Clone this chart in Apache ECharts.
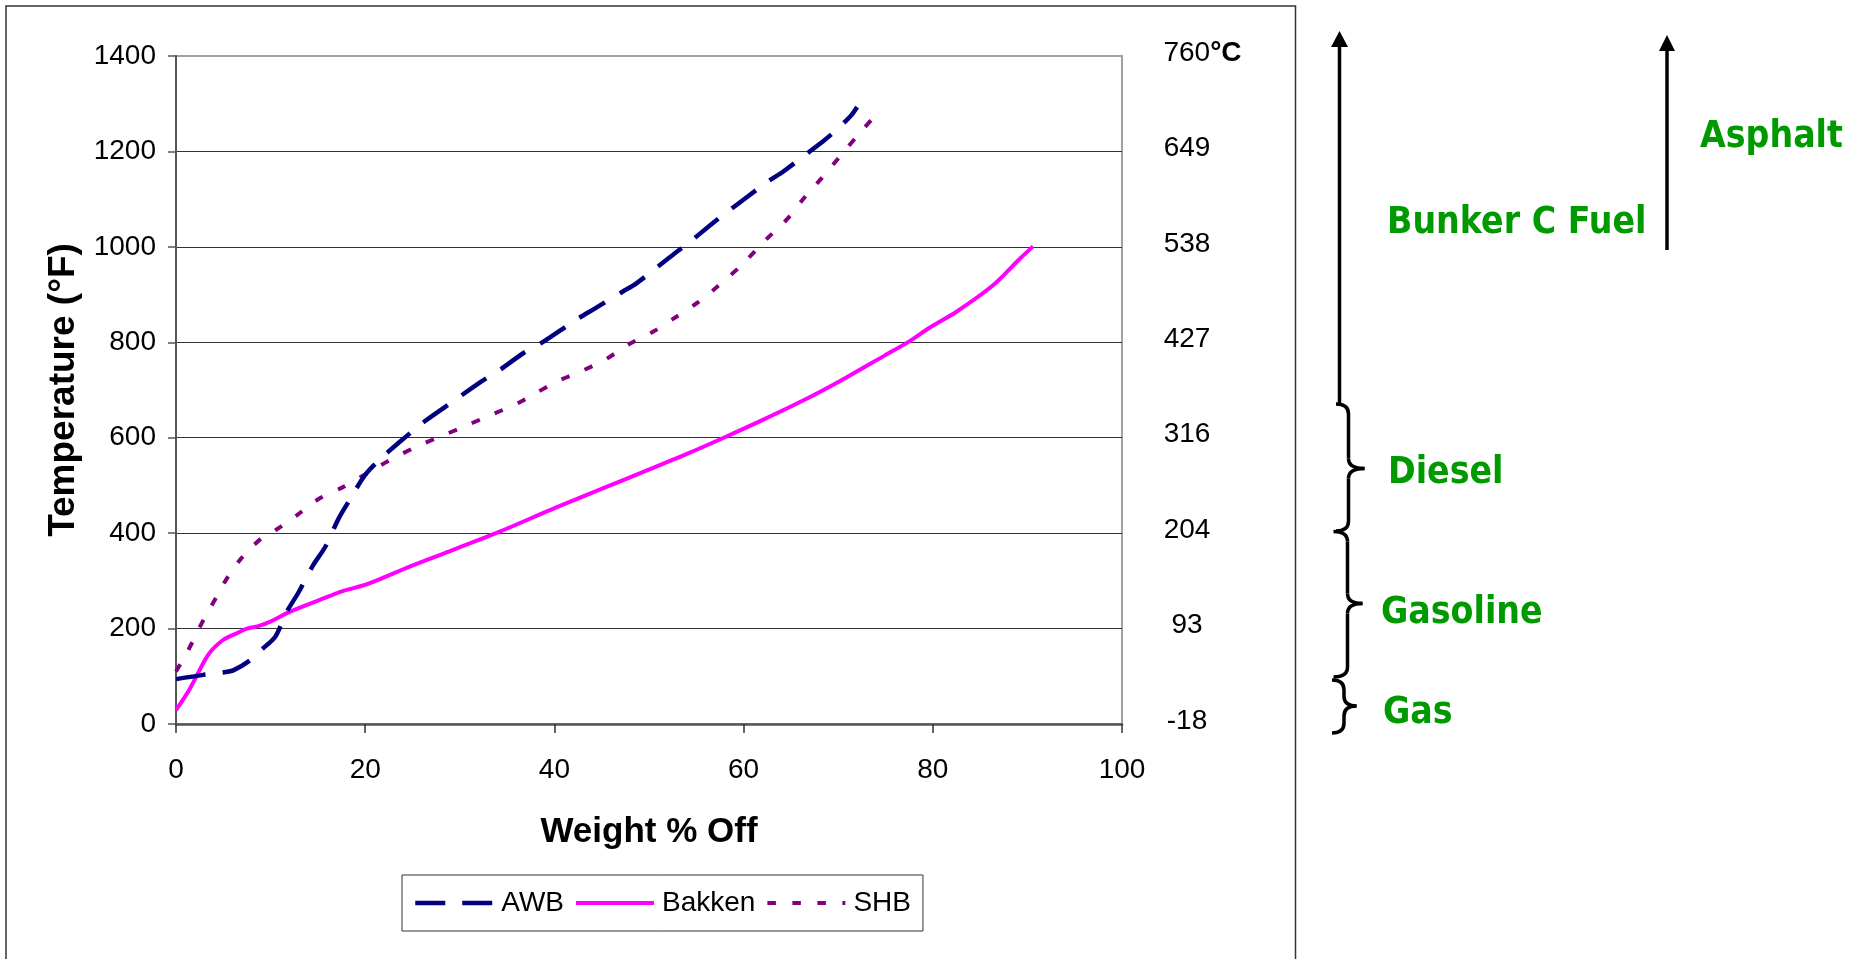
<!DOCTYPE html>
<html>
<head>
<meta charset="utf-8">
<title>Distillation curves</title>
<script src="https://cdn.jsdelivr.net/npm/echarts@6/dist/echarts.min.js"></script>
<style>
  html, body { margin: 0; padding: 0; background: #ffffff; }
  #chart { width: 1862px; height: 959px; }
</style>
</head>
<body>
<div id="chart"></div>
<script>
// Series names shown in the legend
const seriesNames = ['AWB', 'Bakken', 'SHB'];

// Boiling curves: [weight % off, temperature °F]
const awbCurve = [
  [0, 94], [2.9, 103], [5, 108], [6.1, 113], [7.8, 133], [9.4, 162], [10.5, 183],
  [11.7, 235], [12.9, 274], [14.5, 333], [15.8, 372], [17.2, 431], [18.4, 471],
  [20, 522], [21.9, 561], [23.7, 592], [26, 630], [27.7, 654], [32.3, 718],
  [34.3, 743], [36.7, 777], [38.5, 797], [42.6, 851], [44.3, 871], [47.2, 906],
  [48.7, 924], [52.7, 986], [54.3, 1010], [56.7, 1049], [58.4, 1075], [62.5, 1136],
  [64.2, 1158], [66.8, 1197], [68.5, 1223], [69.7, 1243], [70.7, 1262], [71.4, 1276],
  [72, 1293]
];
const bakkenCurve = [
  [0, 29], [1.5, 75], [3.4, 145], [4.9, 175], [6.4, 190], [7.5, 200], [8.7, 205],
  [9.9, 214], [11.9, 234], [15.2, 260], [17.7, 279], [20.2, 293], [24.7, 330],
  [29.3, 365], [34.2, 403], [40.2, 454], [45.5, 497], [50.1, 534], [54, 566],
  [57.9, 600], [62.2, 639], [66.5, 680], [70.3, 720], [74.8, 771], [77.6, 803],
  [79.7, 831], [82.5, 864], [86.4, 920], [89.2, 975], [90.6, 1001]
];
const shbCurve = [
  [0, 110], [1.3, 155], [2.9, 218], [4.3, 267], [5.5, 309], [6.9, 347], [8.9, 387],
  [10.5, 406], [12.8, 438], [15.2, 473], [17.7, 497], [20.5, 529], [22.6, 553],
  [25.4, 581], [27.9, 602], [30.4, 623], [33.2, 647], [36, 671], [37.9, 692],
  [40.4, 719], [42.9, 740], [45.4, 764], [47.8, 795], [50.5, 823], [52.7, 851],
  [55.2, 884], [57.3, 918], [59.8, 962], [62.3, 1014], [64.6, 1058], [66.5, 1105],
  [68.3, 1145], [70.2, 1190], [72.3, 1239], [74.5, 1288]
];

// Axis scales and the Celsius equivalents printed on the right
const xTicks = { min: 0, max: 100, step: 20 };
const fTicks = { min: 0, max: 1400, step: 200 };
const celsiusLabels = ['-18', '93', '204', '316', '427', '538', '649', '760'];
const celsiusUnit = '°C';

// Product cut names written beside the brackets
const productLabels = ['Asphalt', 'Bunker C Fuel', 'Diesel', 'Gasoline', 'Gas'];

const seriesColors = ['#000080', '#FF00FF', '#800080'];
const baseFont = '"Liberation Sans", Arial, Helvetica, sans-serif';
const cutFont = '"DejaVu Sans", Verdana, sans-serif';
const cutGreen = '#009A00';
const braceStroke = { stroke: '#000', lineWidth: 3.5, fill: null };

// Right-pointing curly brace built from lines and quadratic curves:
// spine x, top y, bottom y, tip (x, y), hook end x
function brace(sx, y0, y1, tx, ty, hx) {
  const r = 10;
  const curve = (x1, y1c, x2, y2, cx, cy) => ({
    type: 'bezierCurve', silent: true,
    shape: { x1: x1, y1: y1c, x2: x2, y2: y2, cpx1: cx, cpy1: cy },
    style: braceStroke
  });
  const seg = (x1, y1s, x2, y2) => ({
    type: 'line', silent: true,
    shape: { x1: x1, y1: y1s, x2: x2, y2: y2 },
    style: braceStroke
  });
  return [
    curve(hx, y0, sx, y0 + r, sx, y0),
    seg(sx, y0 + r, sx, ty - r),
    curve(sx, ty - r, tx, ty, sx, ty),
    curve(tx, ty, sx, ty + r, sx, ty),
    seg(sx, ty + r, sx, y1 - r),
    curve(sx, y1 - r, hx, y1, sx, y1)
  ];
}

function cutLabel(text, x, y) {
  return {
    type: 'text', x: x, y: y, scaleX: 0.9, silent: true,
    style: {
      text: text, fill: cutGreen, fontFamily: cutFont, fontWeight: 'bold',
      fontSize: 37, align: 'left', verticalAlign: 'middle'
    }
  };
}

const chart = echarts.init(document.getElementById('chart'));
chart.setOption({
  backgroundColor: '#ffffff',
  animation: false,
  textStyle: { fontFamily: baseFont, color: '#000' },
  grid: {
    left: 176, right: 740, top: 56, bottom: 235,
    show: true, borderColor: '#a0a0a0', borderWidth: 2,
    containLabel: false, outerBoundsMode: 'none'
  },
  legend: {
    data: seriesNames,
    left: 402, top: 875,
    orient: 'horizontal',
    padding: [14, 12, 14, 11],
    borderColor: '#333', borderWidth: 1,
    itemWidth: 78, itemHeight: 14, itemGap: 10,
    lineStyle: { width: 'inherit' },
    itemStyle: { color: 'rgba(0,0,0,0)', borderWidth: 0, borderColor: 'rgba(0,0,0,0)' },
    textStyle: { fontSize: 28, color: '#000', fontFamily: baseFont, padding: [0, 0, 0, 3] }
  },
  xAxis: {
    type: 'value', min: xTicks.min, max: xTicks.max, interval: xTicks.step,
    name: 'Weight % Off', nameLocation: 'middle', nameGap: 91,
    nameTextStyle: { fontSize: 35, fontWeight: 'bold', color: '#000', fontFamily: baseFont },
    axisLine: { show: true, lineStyle: { color: '#555', width: 2.5 } },
    axisTick: { show: true, inside: false, length: 9, lineStyle: { color: '#333', width: 1.5 } },
    axisLabel: { fontSize: 28, color: '#000', margin: 32, fontFamily: baseFont,
      formatter: (v) => String(v) },
    splitLine: { show: false }
  },
  yAxis: [
    {
      type: 'value', position: 'left',
      min: fTicks.min, max: fTicks.max, interval: fTicks.step,
      name: 'Temperature (°F)', nameLocation: 'middle', nameRotate: 90, nameGap: 94,
      nameTextStyle: { fontSize: 37, fontWeight: 'bold', color: '#000', fontFamily: baseFont },
      axisLine: { show: true, lineStyle: { color: '#555', width: 2 } },
      axisTick: { show: true, inside: false, length: 8, lineStyle: { color: '#555', width: 1.5 } },
      axisLabel: { fontSize: 28, color: '#000', margin: 20, fontFamily: baseFont,
        formatter: (v) => String(v) },
      splitLine: { show: true, showMinLine: false, showMaxLine: false, lineStyle: { color: '#333', width: 1.2 } }
    },
    {
      type: 'value', position: 'right',
      min: fTicks.min, max: fTicks.max, interval: fTicks.step,
      axisLine: { show: false }, axisTick: { show: false }, splitLine: { show: false },
      axisLabel: {
        fontSize: 28, color: '#000', margin: 65, align: 'center', fontFamily: baseFont,
        padding: [0, 0, 6, 0],
        formatter: function (value) {
          const i = Math.round((value - fTicks.min) / fTicks.step);
          const txt = celsiusLabels[i];
          if (i === celsiusLabels.length - 1) {
            return '{p|\u00a0}{n|' + txt + '}{c|' + celsiusUnit + '}';
          }
          return txt;
        },
        rich: {
          p: { width: 31, fontSize: 28, fontFamily: baseFont },
          n: { fontSize: 28, color: '#000', fontFamily: baseFont },
          c: { fontSize: 28, color: '#000', fontWeight: 'bold', fontFamily: baseFont }
        }
      }
    }
  ],
  series: [
    {
      name: seriesNames[0], type: 'line', data: awbCurve, smooth: 0.3,
      symbol: 'none', showSymbol: false, z: 3,
      lineStyle: { color: seriesColors[0], width: 4.5, type: [30, 17] },
      itemStyle: { color: seriesColors[0] }
    },
    {
      name: seriesNames[1], type: 'line', data: bakkenCurve, smooth: 0.3,
      symbol: 'none', showSymbol: false, z: 2,
      lineStyle: { color: seriesColors[1], width: 4, type: 'solid' },
      itemStyle: { color: seriesColors[1] }
    },
    {
      name: seriesNames[2], type: 'line', data: shbCurve, smooth: 0.3,
      symbol: 'none', showSymbol: false, z: 2,
      lineStyle: { color: seriesColors[2], width: 4, type: [8.5, 16.5] },
      itemStyle: { color: seriesColors[2] }
    }
  ],
  graphic: {
    elements: [
      // frame around the chart
      { type: 'rect', silent: true, shape: { x: 6, y: 6, width: 1289.5, height: 1000 },
        style: { fill: null, stroke: '#333', lineWidth: 1.5 } },
      // long arrow rising from the diesel bracket
      { type: 'line', silent: true, shape: { x1: 1339.5, y1: 404, x2: 1339.5, y2: 44 }, style: { stroke: '#000', lineWidth: 3.5 } },
      { type: 'polygon', silent: true, shape: { points: [[1339.5, 31], [1331, 47], [1348, 47]] }, style: { fill: '#000' } },
      // short arrow beside the asphalt label
      { type: 'line', silent: true, shape: { x1: 1667, y1: 250, x2: 1667, y2: 48 }, style: { stroke: '#000', lineWidth: 3.5 } },
      { type: 'polygon', silent: true, shape: { points: [[1667, 35], [1659, 51], [1675, 51]] }, style: { fill: '#000' } },
      // brackets for the lighter cuts
      ...brace(1348.5, 404, 531, 1364.5, 468.5, 1336),
      ...brace(1347.5, 531.5, 677, 1362.5, 603.5, 1333.5),
      ...brace(1344, 680, 733, 1356.5, 706, 1332),
      // cut names
      cutLabel(productLabels[0], 1700, 137),
      cutLabel(productLabels[1], 1387, 223),
      cutLabel(productLabels[2], 1388, 473.5),
      cutLabel(productLabels[3], 1381, 613.5),
      cutLabel(productLabels[4], 1383, 713)
    ]
  }
});
</script>
</body>
</html>
